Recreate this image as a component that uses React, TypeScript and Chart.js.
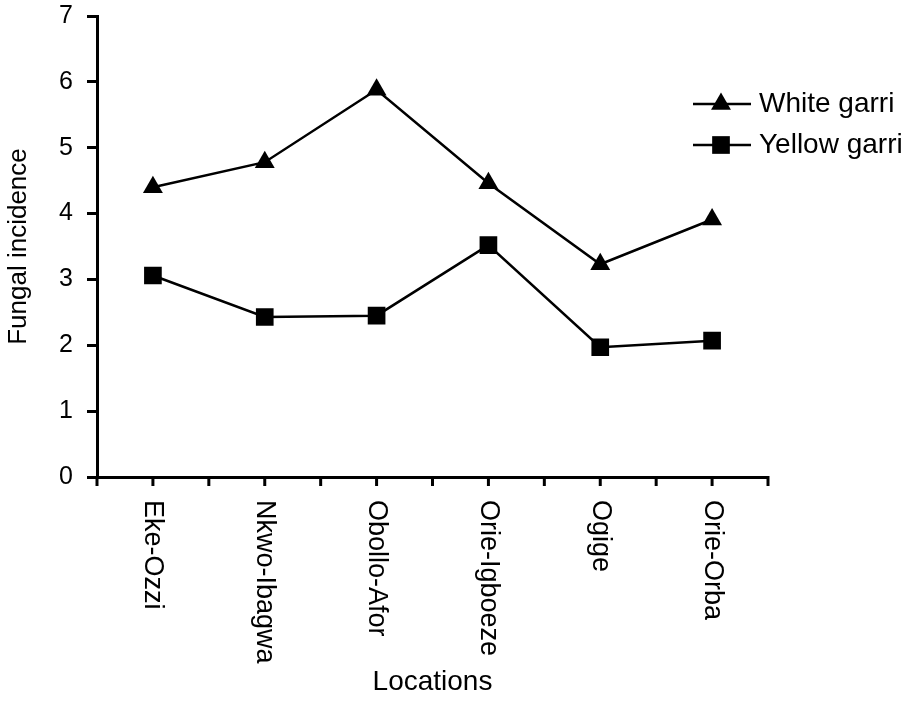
import React, { useEffect, useRef } from 'react';
import { Chart, registerables } from 'chart.js';

Chart.register(...registerables);

const locations = ['Eke-Ozzi', 'Nkwo-Ibagwa', 'Obollo-Afor', 'Orie-Igboeze', 'Ogige', 'Orie-Orba'];
const whiteGarri = [4.4, 4.78, 5.88, 4.46, 3.23, 3.91];
const yellowGarri = [3.06, 2.43, 2.45, 3.52, 1.97, 2.07];
const yMin = 0;
const yMax = 7;
const yStep = 1;

const FONT = '"Liberation Sans", Arial, Helvetica, sans-serif';

export default function App() {
  const ref = useRef<HTMLCanvasElement>(null);

  useEffect(() => {
    document.body.style.margin = '0';
    const canvas = ref.current;
    if (!canvas) return;

    const customPlugin = {
      id: 'customAxesLegend',
      afterDraw(chart: any) {
        const ctx = chart.ctx as CanvasRenderingContext2D;
        const x = chart.scales.x;
        const y0 = chart.chartArea.bottom;
        ctx.save();
        ctx.fillStyle = '#000000';
        ctx.strokeStyle = '#000000';
        ctx.lineWidth = 3;
        // x tick marks at category centres and boundaries
        const half = (x.getPixelForValue(1) - x.getPixelForValue(0)) / 2;
        const marks: number[] = [x.getPixelForValue(0) - half];
        for (let i = 0; i < locations.length; i++) {
          marks.push(x.getPixelForValue(i));
          marks.push(x.getPixelForValue(i) + half);
        }
        marks.forEach((px) => {
          ctx.beginPath();
          ctx.moveTo(px, y0 - 1);
          ctx.lineTo(px, y0 + 9);
          ctx.stroke();
        });
        // rotated x labels (reading downward)
        ctx.font = `27px ${FONT}`;
        ctx.textAlign = 'left';
        ctx.textBaseline = 'middle';
        locations.forEach((lab, i) => {
          const px = x.getPixelForValue(i);
          ctx.save();
          ctx.translate(px, y0 + 23);
          ctx.rotate(Math.PI / 2);
          ctx.fillText(lab, 0, 0);
          ctx.restore();
        });
        // legend
        const rows = [104, 145];
        chart.data.datasets.forEach((ds: any, i: number) => {
          const ly = rows[i];
          ctx.lineWidth = 2.5;
          ctx.beginPath();
          ctx.moveTo(693, ly);
          ctx.lineTo(751, ly);
          ctx.stroke();
          const mx = 721;
          if (ds.pointStyle === 'triangle') {
            const r = ds.pointRadius;
            ctx.beginPath();
            ctx.moveTo(mx, ly - r);
            ctx.lineTo(mx + r * Math.sin(Math.PI / 3), ly + r / 2);
            ctx.lineTo(mx - r * Math.sin(Math.PI / 3), ly + r / 2);
            ctx.closePath();
            ctx.fill();
          } else {
            const s = ds.pointRadius * Math.SQRT1_2;
            ctx.fillRect(mx - s, ly - s, 2 * s, 2 * s);
          }
          ctx.font = `28px ${FONT}`;
          ctx.textAlign = 'left';
          ctx.textBaseline = 'alphabetic';
          ctx.fillText(ds.label, 759, ly + 8);
        });
        ctx.restore();
      },
    };

    const chart = new Chart(canvas, {
      type: 'line',
      data: {
        labels: locations,
        datasets: [
          {
            label: 'White garri',
            data: whiteGarri,
            borderColor: '#000',
            backgroundColor: '#000',
            borderWidth: 2.5,
            pointStyle: 'triangle',
            pointRadius: 11.5,
            pointBackgroundColor: '#000',
            pointBorderColor: '#000',
            pointBorderWidth: 0,
            tension: 0,
            fill: false,
          },
          {
            label: 'Yellow garri',
            data: yellowGarri,
            borderColor: '#000',
            backgroundColor: '#000',
            borderWidth: 2.5,
            pointStyle: 'rect',
            pointRadius: 12.5,
            pointBackgroundColor: '#000',
            pointBorderColor: '#000',
            pointBorderWidth: 0,
            tension: 0,
            fill: false,
          },
        ],
      },
      options: {
        animation: false,
        responsive: false,
        events: [],
        layout: { padding: { left: 0, right: 145, top: 16, bottom: 0 } },
        plugins: {
          legend: { display: false },
          tooltip: { enabled: false },
          title: { display: false },
        },
        scales: {
          x: {
            type: 'category',
            offset: true,
            grid: { display: false },
            border: { display: true, color: '#000', width: 3 },
            ticks: { display: false },
            title: {
              display: true,
              text: 'Locations',
              color: '#000',
              font: { family: FONT, size: 28 },
              padding: { top: 0, bottom: 3 },
            },
            afterFit(scale: any) {
              scale.height = 225;
              scale.paddingLeft = 0;
              scale.paddingRight = 0;
            },
          },
          y: {
            min: yMin,
            max: yMax,
            grid: { display: true, color: '#000', lineWidth: 3, drawOnChartArea: false, drawTicks: true, tickLength: 10 },
            border: { display: true, color: '#000', width: 3 },
            ticks: {
              stepSize: yStep,
              color: '#000',
              padding: 14,
              font: { family: FONT, size: 25 },
            },
            title: {
              display: true,
              text: 'Fungal incidence',
              color: '#000',
              font: { family: FONT, size: 26 },
              padding: { top: 3, bottom: 0 },
            },
            afterFit(scale: any) {
              scale.width = 97;
              scale.paddingTop = 0;
              scale.paddingBottom = 0;
            },
          },
        },
      },
      plugins: [customPlugin],
    });

    return () => chart.destroy();
  }, []);

  return (
    <div style={{ width: 913, height: 702 }}>
      <canvas ref={ref} width={913} height={702} style={{ display: 'block' }} />
    </div>
  );
}
